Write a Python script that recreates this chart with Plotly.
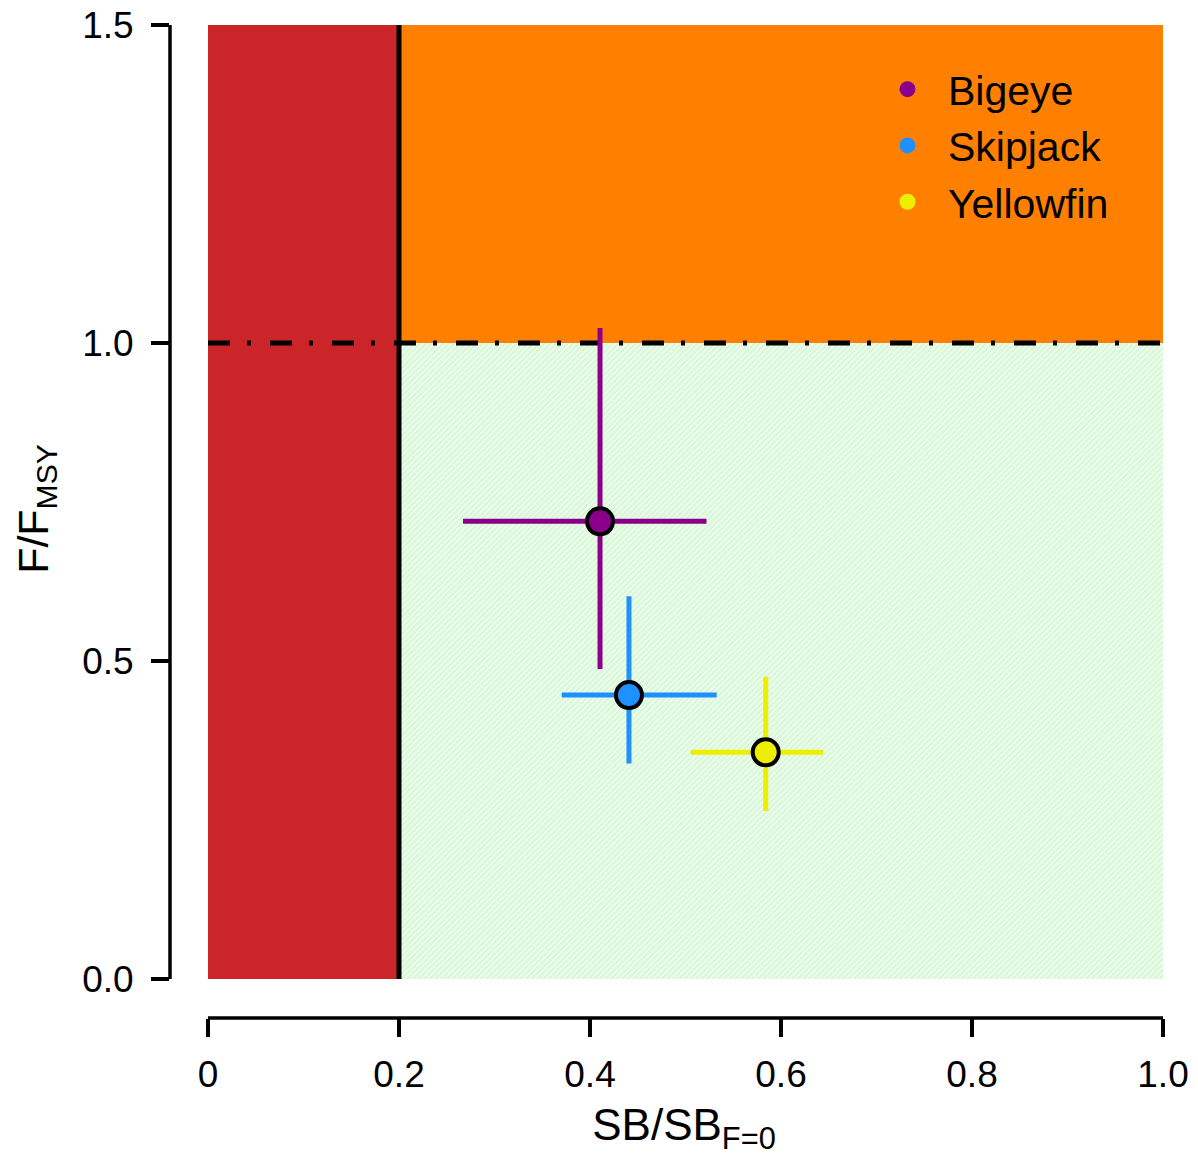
import plotly.graph_objects as go

# ---- data ----
species = ["Bigeye", "Skipjack", "Yellowfin"]
colors = ["#8B008B", "#1E90FF", "#EEEE00"]
sb = [0.4105, 0.4408, 0.584]
sb_lo = [0.267, 0.3704, 0.5054]
sb_hi = [0.522, 0.5327, 0.6443]
f = [0.7197, 0.4465, 0.3565]
f_lo = [0.4874, 0.339, 0.2642]
f_hi = [1.0236, 0.602, 0.4753]

sb_limit = 0.2
f_ref = 1.0
x_max = 1.0
y_max = 1.5

x_ticks = [0, 0.2, 0.4, 0.6, 0.8, 1.0]
x_ticktext = ["0", "0.2", "0.4", "0.6", "0.8", "1.0"]
y_ticks = [0, 0.5, 1.0, 1.5]
y_ticktext = ["0.0", "0.5", "1.0", "1.5"]

FONT = "Liberation Sans, Arial, Helvetica, sans-serif"

fig = go.Figure()

# green hatched region (healthy)
fig.add_trace(go.Scatter(
    x=[sb_limit, x_max, x_max, sb_limit, sb_limit],
    y=[0, 0, f_ref, f_ref, 0],
    fill="toself", mode="none",
    fillcolor="white",
    fillpattern=dict(shape="/", fgcolor="#b2f2b2", bgcolor="white", size=4, solidity=0.75),
    showlegend=False, hoverinfo="skip",
))

# reference lines
fig.add_trace(go.Scatter(
    x=[sb_limit, sb_limit], y=[0, y_max], mode="lines",
    line=dict(color="black", width=5), showlegend=False, hoverinfo="skip",
))
fig.add_trace(go.Scatter(
    x=[0, x_max], y=[f_ref, f_ref], mode="lines",
    line=dict(color="black", width=5, dash="22px,17px,4px,19px"),
    showlegend=False, hoverinfo="skip",
))

# points with error bars
for i, name in enumerate(species):
    fig.add_trace(go.Scatter(
        x=[sb[i]], y=[f[i]], mode="markers",
        marker=dict(size=26, color=colors[i], line=dict(color="black", width=4)),
        error_x=dict(type="data", symmetric=False,
                     array=[sb_hi[i] - sb[i]], arrayminus=[sb[i] - sb_lo[i]],
                     color=colors[i], thickness=5, width=0),
        error_y=dict(type="data", symmetric=False,
                     array=[f_hi[i] - f[i]], arrayminus=[f[i] - f_lo[i]],
                     color=colors[i], thickness=5, width=0),
        showlegend=False, name=name,
    ))

# legend entries (no outline, like the reference)
for i, name in enumerate(species):
    fig.add_trace(go.Scatter(
        x=[None], y=[None], mode="markers", name=name,
        marker=dict(size=16, color=colors[i]),
        showlegend=True,
    ))

shapes = [
    # red zone
    dict(type="rect", xref="x", yref="y", x0=0, x1=sb_limit, y0=0, y1=y_max,
         fillcolor="#CC2529", line=dict(width=0), layer="below"),
    # orange zone
    dict(type="rect", xref="x", yref="y", x0=sb_limit, x1=x_max, y0=f_ref, y1=y_max,
         fillcolor="#FF7F00", line=dict(width=0), layer="below"),
    # detached axis lines (R style)
    dict(type="line", xref="x", yref="paper", x0=0, x1=x_max, y0=0, y1=0,
         line=dict(color="black", width=3.5), layer="above"),
    dict(type="line", xref="paper", yref="y", x0=0, x1=0, y0=0, y1=y_max,
         line=dict(color="black", width=3.5), layer="above"),
]

W, H = 1198, 1158
L, B = 170, 140
fig.update_layout(
    width=W, height=H,
    margin=dict(l=L, r=0, t=0, b=B, autoexpand=False),
    paper_bgcolor="white", plot_bgcolor="white",
    font=dict(family=FONT, color="black", size=37),
    shapes=shapes,
    xaxis=dict(
        range=[-38 / 955, (W - 208) / 955],
        tickvals=x_ticks, ticktext=x_ticktext,
        ticks="outside", ticklen=18, tickwidth=3.5, tickcolor="black",
        showline=False, showgrid=False, zeroline=False,
        tickfont=dict(size=37), ticklabelstandoff=6,
        title=dict(text="SB/SB<sub>F=0</sub>", font=dict(size=44), standoff=14),
        automargin=False,
    ),
    yaxis=dict(
        range=[-39 / 636, 979 / 636],
        tickvals=y_ticks, ticktext=y_ticktext,
        ticks="outside", ticklen=18, tickwidth=3.5, tickcolor="black",
        showline=False, showgrid=False, zeroline=False,
        tickfont=dict(size=37), ticklabelstandoff=10,
        title=dict(text="F/F<sub>MSY</sub>", font=dict(size=43), standoff=20),
        automargin=False,
    ),
    legend=dict(
        x=0.678, y=0.945, xanchor="left", yanchor="top",
        bgcolor="rgba(0,0,0,0)", font=dict(size=41),
        itemwidth=71, tracegroupgap=0,
    ),
)

fig.write_html("out.html")
